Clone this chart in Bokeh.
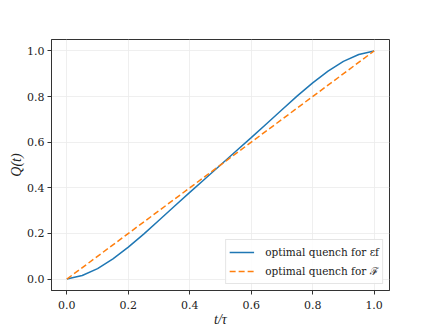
from bokeh.plotting import figure
from bokeh.models import Range1d, Legend, LegendItem, FixedTicker, PrintfTickFormatter
from bokeh.embed import file_html
from bokeh.resources import INLINE

# data
t_eps = [0.0, 0.05, 0.1, 0.15, 0.2, 0.25, 0.3, 0.35, 0.4, 0.45, 0.5,
         0.55, 0.6, 0.65, 0.7, 0.75, 0.8, 0.85, 0.9, 0.95, 1.0]
q_eps = [0.0, 0.016, 0.046, 0.089, 0.140, 0.197, 0.258, 0.319, 0.380, 0.440, 0.500,
         0.560, 0.620, 0.681, 0.742, 0.803, 0.860, 0.911, 0.954, 0.984, 1.0]
t_fid = [0.0, 1.0]
q_fid = [0.0, 1.0]
x_ticks = [0.0, 0.2, 0.4, 0.6, 0.8, 1.0]
y_ticks = [0.0, 0.2, 0.4, 0.6, 0.8, 1.0]
label_eps = "optimal quench for εf"
label_fid = "optimal quench for ℱ"

FONT = "Liberation Serif"
LFONT = "DejaVu Serif"

p = figure(frame_width=338, frame_height=251,
           min_border_left=51, min_border_right=30, min_border_top=39, min_border_bottom=20,
           output_backend="svg", toolbar_location=None,
           x_range=Range1d(-0.05, 1.05), y_range=Range1d(-0.05, 1.05))

p.outline_line_color = "#333333"
p.outline_line_width = 1
p.background_fill_color = "white"
p.border_fill_color = "white"

for ax in (p.xaxis[0], p.yaxis[0]):
    ax.major_label_text_font = LFONT
    ax.major_label_text_font_size = "11px"
    ax.major_label_text_color = "#222222"
    ax.axis_label_text_font = FONT
    ax.axis_label_text_font_size = "14px"
    ax.axis_label_text_font_style = "italic"
    ax.axis_label_text_color = "#222222"
    ax.axis_line_color = "#333333"
    ax.major_tick_line_color = "#333333"
    ax.major_tick_out = 4
    ax.major_tick_in = 0
    ax.minor_tick_line_color = None
    ax.formatter = PrintfTickFormatter(format="%.1f")

p.xaxis.major_label_standoff = 6
p.yaxis.major_label_standoff = 3
p.xaxis.ticker = FixedTicker(ticks=x_ticks)
p.yaxis.ticker = FixedTicker(ticks=y_ticks)
p.xaxis.axis_label = "t/τ"
p.yaxis.axis_label = "Q(t)"
p.xaxis.axis_label_standoff = 0
p.yaxis.axis_label_standoff = 0

p.grid.grid_line_color = "#ebebeb"
p.grid.grid_line_width = 0.8

r1 = p.line(t_eps, q_eps, line_color="#1f77b4", line_width=1.5)
r2 = p.line(t_fid, q_fid, line_color="#ff7f0e", line_width=1.5, line_dash="6 3")

legend = Legend(items=[LegendItem(label=label_eps, renderers=[r1]),
                       LegendItem(label=label_fid, renderers=[r2])],
                location="bottom_right")
legend.label_text_font = LFONT
legend.label_text_font_size = "10.5px"
legend.label_text_color = "#222222"
legend.border_line_color = "#cccccc"
legend.border_line_width = 1
legend.background_fill_alpha = 0.85
legend.margin = 6
legend.padding = 3
legend.spacing = 1
legend.glyph_width = 25
legend.glyph_height = 18
legend.label_height = 18
legend.label_standoff = 11
p.add_layout(legend)

open("out.html", "w").write(file_html(p, INLINE))
